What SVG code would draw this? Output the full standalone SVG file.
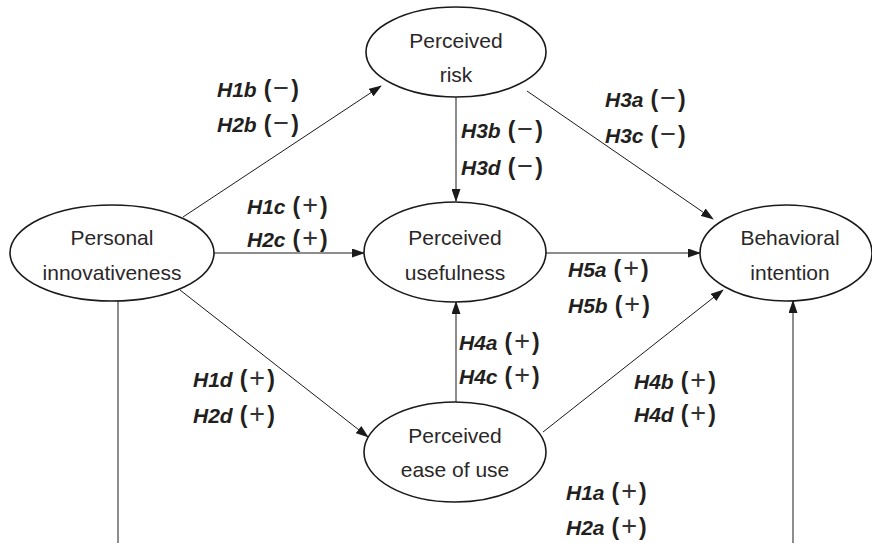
<svg xmlns="http://www.w3.org/2000/svg" width="872" height="543" viewBox="0 0 872 543">
<style>
.node ellipse{fill:#fff;stroke:#1a1a1a;stroke-width:1.6}
.nt{font-family:"Liberation Sans",Arial,sans-serif;font-size:21px;fill:#2a2728;text-anchor:middle}
.lb{font-family:"Liberation Sans",Arial,sans-serif;font-size:21px;fill:#231f20}
.lb .h{font-weight:bold;font-style:italic}
.lb .p{font-weight:bold;font-size:23px}
.lb .s{font-weight:normal;font-size:27px;fill:#333}
#connectors line{stroke:#1a1a1a;stroke-width:1}
</style>
<defs>
<marker id="ah" markerUnits="userSpaceOnUse" markerWidth="13" markerHeight="9" refX="12" refY="4.5" orient="auto">
<path d="M0,0 L13,4.5 L0,9 z" fill="#1a1a1a"/>
</marker>
</defs>
<rect width="872" height="543" fill="#fff"/>
<g id="connectors">
<line x1="183" y1="217" x2="381" y2="86" marker-end="url(#ah)"/>
<line x1="214" y1="253" x2="364" y2="253" marker-end="url(#ah)"/>
<line x1="180" y1="290" x2="368" y2="437" marker-end="url(#ah)"/>
<line x1="456" y1="97" x2="456" y2="201" marker-end="url(#ah)"/>
<line x1="456" y1="402" x2="456" y2="302" marker-end="url(#ah)"/>
<line x1="527" y1="91" x2="713" y2="219" marker-end="url(#ah)"/>
<line x1="546" y1="253" x2="700" y2="253" marker-end="url(#ah)"/>
<line x1="543" y1="432" x2="723" y2="290" marker-end="url(#ah)"/>
<line x1="118" y1="301" x2="118" y2="543"/>
<line x1="793" y1="543" x2="793" y2="301" marker-end="url(#ah)"/>
</g>
<g id="personal-innovativeness" class="node">
<ellipse cx="112" cy="253" rx="102" ry="48"/>
<text class="nt" x="112" y="245">Personal</text>
<text class="nt" x="112" y="280">innovativeness</text>
</g>
<g id="perceived-risk" class="node">
<ellipse cx="456" cy="52" rx="90" ry="45"/>
<text class="nt" x="456" y="48">Perceived</text>
<text class="nt" x="456" y="82">risk</text>
</g>
<g id="perceived-usefulness" class="node">
<ellipse cx="455" cy="252" rx="91" ry="50"/>
<text class="nt" x="455" y="245">Perceived</text>
<text class="nt" x="455" y="280">usefulness</text>
</g>
<g id="perceived-ease-of-use" class="node">
<ellipse cx="455" cy="452" rx="91" ry="50"/>
<text class="nt" x="455" y="443">Perceived</text>
<text class="nt" x="455" y="477">ease of use</text>
</g>
<g id="behavioral-intention" class="node">
<ellipse cx="786" cy="253" rx="86" ry="48"/>
<text class="nt" x="790" y="245">Behavioral</text>
<text class="nt" x="790" y="280">intention</text>
</g>
<g id="labels">
<text class="lb" x="217" y="97"><tspan class="h">H1b</tspan><tspan class="p" dx="7">(</tspan><tspan class="s" dx="2">−</tspan><tspan class="p" dx="2">)</tspan></text>
<text class="lb" x="217" y="132"><tspan class="h">H2b</tspan><tspan class="p" dx="7">(</tspan><tspan class="s" dx="2">−</tspan><tspan class="p" dx="2">)</tspan></text>
<text class="lb" x="461" y="138"><tspan class="h">H3b</tspan><tspan class="p" dx="7">(</tspan><tspan class="s" dx="2">−</tspan><tspan class="p" dx="2">)</tspan></text>
<text class="lb" x="461" y="175"><tspan class="h">H3d</tspan><tspan class="p" dx="7">(</tspan><tspan class="s" dx="2">−</tspan><tspan class="p" dx="2">)</tspan></text>
<text class="lb" x="605" y="107"><tspan class="h">H3a</tspan><tspan class="p" dx="7">(</tspan><tspan class="s" dx="2">−</tspan><tspan class="p" dx="2">)</tspan></text>
<text class="lb" x="605" y="143"><tspan class="h">H3c</tspan><tspan class="p" dx="7">(</tspan><tspan class="s" dx="2">−</tspan><tspan class="p" dx="2">)</tspan></text>
<text class="lb" x="247" y="214"><tspan class="h">H1c</tspan><tspan class="p" dx="7">(</tspan><tspan class="s" dx="2">+</tspan><tspan class="p" dx="2">)</tspan></text>
<text class="lb" x="247" y="247"><tspan class="h">H2c</tspan><tspan class="p" dx="7">(</tspan><tspan class="s" dx="2">+</tspan><tspan class="p" dx="2">)</tspan></text>
<text class="lb" x="568" y="277"><tspan class="h">H5a</tspan><tspan class="p" dx="7">(</tspan><tspan class="s" dx="2">+</tspan><tspan class="p" dx="2">)</tspan></text>
<text class="lb" x="568" y="313"><tspan class="h">H5b</tspan><tspan class="p" dx="7">(</tspan><tspan class="s" dx="2">+</tspan><tspan class="p" dx="2">)</tspan></text>
<text class="lb" x="459" y="350"><tspan class="h">H4a</tspan><tspan class="p" dx="7">(</tspan><tspan class="s" dx="2">+</tspan><tspan class="p" dx="2">)</tspan></text>
<text class="lb" x="459" y="384"><tspan class="h">H4c</tspan><tspan class="p" dx="7">(</tspan><tspan class="s" dx="2">+</tspan><tspan class="p" dx="2">)</tspan></text>
<text class="lb" x="193" y="387"><tspan class="h">H1d</tspan><tspan class="p" dx="7">(</tspan><tspan class="s" dx="2">+</tspan><tspan class="p" dx="2">)</tspan></text>
<text class="lb" x="193" y="423"><tspan class="h">H2d</tspan><tspan class="p" dx="7">(</tspan><tspan class="s" dx="2">+</tspan><tspan class="p" dx="2">)</tspan></text>
<text class="lb" x="634" y="389"><tspan class="h">H4b</tspan><tspan class="p" dx="7">(</tspan><tspan class="s" dx="2">+</tspan><tspan class="p" dx="2">)</tspan></text>
<text class="lb" x="634" y="422"><tspan class="h">H4d</tspan><tspan class="p" dx="7">(</tspan><tspan class="s" dx="2">+</tspan><tspan class="p" dx="2">)</tspan></text>
<text class="lb" x="566" y="500"><tspan class="h">H1a</tspan><tspan class="p" dx="7">(</tspan><tspan class="s" dx="2">+</tspan><tspan class="p" dx="2">)</tspan></text>
<text class="lb" x="566" y="535"><tspan class="h">H2a</tspan><tspan class="p" dx="7">(</tspan><tspan class="s" dx="2">+</tspan><tspan class="p" dx="2">)</tspan></text>
</g>
</svg>
